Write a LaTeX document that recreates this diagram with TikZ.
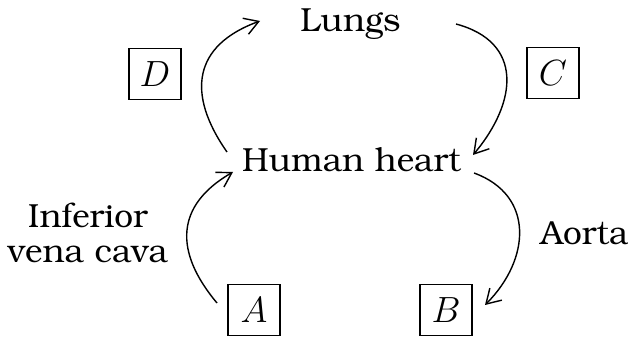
\documentclass[tikz,border=0pt]{standalone}
\usepackage[T1]{fontenc}
\usepackage{bookman}
\usetikzlibrary{arrows.meta}

\begin{document}
\begin{tikzpicture}[x=0.02cm, y=0.02cm,
	organ/.style={inner sep=0pt, font=\fontsize{19}{19.9}\selectfont},
	optbox/.style={draw, line width=0.8pt, minimum width=1.04cm, minimum height=1.02cm, inner sep=0pt, font=\fontsize{20}{21}\selectfont},
	flow/.style={line width=0.8pt, -{Straight Barb[length=2.8mm, width=3.4mm]}}]
	\useasboundingbox (0, 0) rectangle (628, 341);
	\node[organ, anchor=base] (lungs) at (350.5, 309) {Lungs};
	\node[organ, anchor=base] (heart) at (351.5, 169) {Human heart};
	\node[organ, align=center] (ivc) at (88, 108) {Inferior\\vena cava};
	\node[organ, anchor=base] (aorta) at (584.5, 96) {Aorta};
	\node[optbox] (D) at (155, 267) {$D$};
	\node[optbox] (C) at (553, 268) {$C$};
	\node[optbox] (A) at (254, 31) {$A$};
	\node[optbox] (B) at (446, 31) {$B$};
	\draw[flow] ([shift={(-124.5, 20)}]heart.base) to[out=125, in=200, looseness=1.35] ([shift={(-90.5, 11)}]lungs.base);
	\draw[flow] ([shift={(105.5, 8)}]lungs.base) to[out=-15, in=50, looseness=1.35] ([shift={(121.5, 17)}]heart.base);
	\draw[flow] ([shift={(-37, 7)}]A.center) to[out=130, in=210, looseness=1.3] ([shift={(-118.5, 0)}]heart.base);
	\draw[flow] ([shift={(122.5, -1)}]heart.base) to[out=-20, in=45, looseness=1.25] ([shift={(39, 5)}]B.center);
\end{tikzpicture}
\end{document}
